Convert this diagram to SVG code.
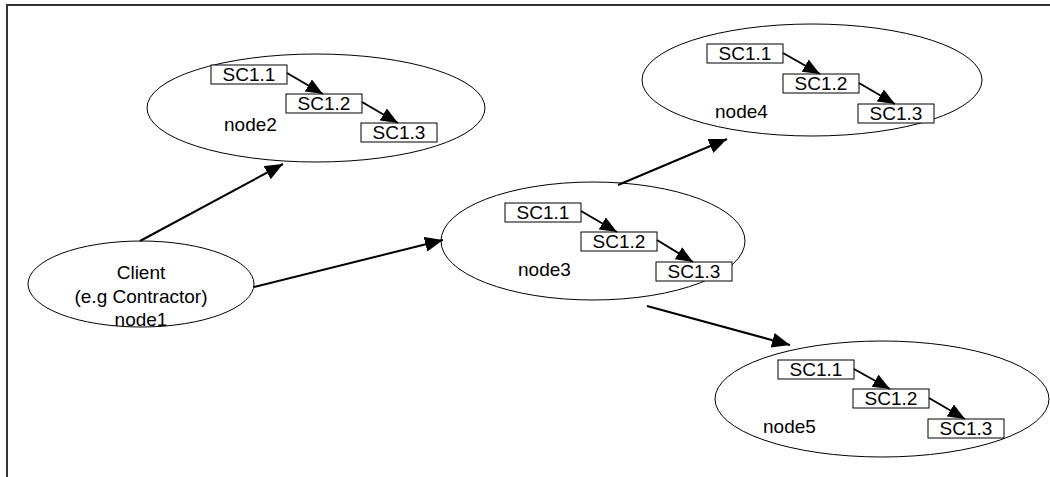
<svg xmlns="http://www.w3.org/2000/svg" width="1050" height="477" viewBox="0 0 1050 477">
<style>
.ell{fill:#fff;stroke:#000;stroke-width:1}
.box{fill:#fff;stroke:#000;stroke-width:1}
.t{font-family:"Liberation Sans",Arial,sans-serif;font-size:19px;fill:#000}
.sc{font-family:"Liberation Sans",Arial,sans-serif;font-size:19px;fill:#000;text-anchor:middle}
.c{stroke:#000;stroke-width:2;fill:none}
.frame{stroke:#333;stroke-width:2;fill:none}
</style>
<defs>
<marker id="ah" markerUnits="userSpaceOnUse" markerWidth="18" markerHeight="16" refX="18" refY="7.5" orient="auto">
<path d="M0,0 L18,7.5 L0,15 z" fill="#000"/>
</marker>
<marker id="ahs" markerUnits="userSpaceOnUse" markerWidth="17" markerHeight="15" refX="17" refY="7" orient="auto">
<path d="M0,0 L17,7 L0,14 z" fill="#000"/>
</marker>
</defs>
<path class="frame" d="M7,477 L7,5 L1050,5"/>
<g id="node1">
<ellipse class="ell" cx="141" cy="284" rx="113" ry="43"/>
<text class="sc" x="141" y="279">Client</text>
<text class="sc" x="141" y="303">(e.g Contractor)</text>
<text class="sc" x="141" y="326">node1</text>
</g>
<g id="node2">
<ellipse class="ell" cx="316" cy="108" rx="169" ry="54"/>
<rect class="box" x="211" y="65" width="76" height="19"/>
<text class="sc" x="249" y="81">SC1.1</text>
<rect class="box" x="286" y="94" width="76" height="19"/>
<text class="sc" x="324" y="110">SC1.2</text>
<rect class="box" x="361" y="123" width="76" height="19"/>
<text class="sc" x="399" y="139">SC1.3</text>
<text class="t" x="224" y="131">node2</text>
<line class="c" x1="287" y1="73" x2="323" y2="94" marker-end="url(#ahs)"/>
<line class="c" x1="362" y1="102" x2="398" y2="123" marker-end="url(#ahs)"/>
</g>
<g id="node3">
<ellipse class="ell" cx="593" cy="241" rx="152" ry="59"/>
<rect class="box" x="505" y="203" width="76" height="19"/>
<text class="sc" x="543" y="219">SC1.1</text>
<rect class="box" x="581" y="232" width="76" height="19"/>
<text class="sc" x="619" y="248">SC1.2</text>
<rect class="box" x="656" y="262" width="76" height="19"/>
<text class="sc" x="694" y="278">SC1.3</text>
<text class="t" x="518" y="276">node3</text>
<line class="c" x1="581" y1="211" x2="617" y2="232" marker-end="url(#ahs)"/>
<line class="c" x1="657" y1="240" x2="693" y2="262" marker-end="url(#ahs)"/>
</g>
<g id="node4">
<ellipse class="ell" cx="812" cy="80" rx="170" ry="56"/>
<rect class="box" x="707" y="44" width="76" height="19"/>
<text class="sc" x="745" y="60">SC1.1</text>
<rect class="box" x="783" y="74" width="76" height="19"/>
<text class="sc" x="821" y="90">SC1.2</text>
<rect class="box" x="858" y="104" width="76" height="19"/>
<text class="sc" x="896" y="120">SC1.3</text>
<text class="t" x="715" y="118">node4</text>
<line class="c" x1="783" y1="53" x2="820" y2="74" marker-end="url(#ahs)"/>
<line class="c" x1="859" y1="83" x2="895" y2="104" marker-end="url(#ahs)"/>
</g>
<g id="node5">
<ellipse class="ell" cx="882" cy="399" rx="167" ry="58"/>
<rect class="box" x="778" y="360" width="76" height="19"/>
<text class="sc" x="816" y="376">SC1.1</text>
<rect class="box" x="853" y="389" width="76" height="19"/>
<text class="sc" x="891" y="405">SC1.2</text>
<rect class="box" x="928" y="419" width="76" height="19"/>
<text class="sc" x="966" y="435">SC1.3</text>
<text class="t" x="763" y="433">node5</text>
<line class="c" x1="854" y1="369" x2="890" y2="389" marker-end="url(#ahs)"/>
<line class="c" x1="929" y1="398" x2="965" y2="419" marker-end="url(#ahs)"/>
</g>
<g id="connectors">
<line class="c" x1="140" y1="241" x2="283" y2="164" marker-end="url(#ah)"/>
<line class="c" x1="254" y1="287" x2="443" y2="240" marker-end="url(#ah)"/>
<line class="c" x1="618" y1="185" x2="727" y2="139" marker-end="url(#ah)"/>
<line class="c" x1="647" y1="306" x2="790" y2="345" marker-end="url(#ah)"/>
</g>
</svg>
